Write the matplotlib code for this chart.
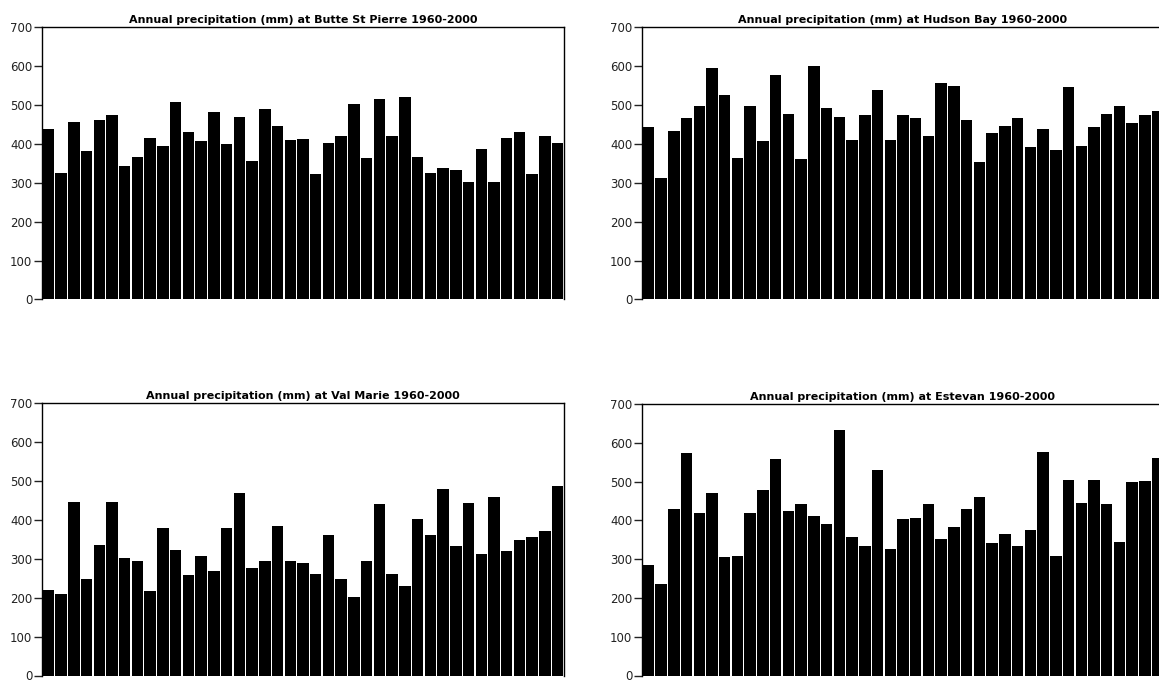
import numpy as np
import matplotlib
matplotlib.use("Agg")
import matplotlib.pyplot as plt

years = list(range(1960, 2001))

butte_st_pierre = [439, 325, 455, 381, 461, 474, 344, 365, 415, 394,
                   507, 431, 408, 482, 400, 470, 356, 489, 445, 409,
                   413, 323, 402, 421, 501, 363, 514, 421, 520, 366,
                   325, 338, 332, 301, 387, 301, 415, 431, 323, 419, 402]

hudson_bay = [443, 311, 434, 465, 498, 594, 526, 364, 496, 407,
              576, 477, 360, 600, 492, 468, 409, 474, 539, 409,
              474, 466, 420, 557, 548, 462, 354, 428, 446, 466,
              391, 438, 385, 545, 395, 444, 477, 496, 453, 474, 483]

val_marie = [219, 209, 446, 247, 336, 446, 302, 293, 216, 378,
             322, 259, 307, 268, 378, 470, 277, 293, 384, 293,
             289, 261, 361, 247, 201, 295, 440, 261, 231, 402,
             361, 480, 332, 443, 311, 458, 320, 348, 356, 372, 486]

estevan = [286, 237, 428, 574, 418, 471, 305, 307, 418, 479,
           557, 424, 443, 412, 391, 633, 357, 334, 529, 326,
           404, 406, 441, 351, 384, 430, 461, 341, 366, 335,
           376, 577, 307, 504, 446, 504, 443, 345, 498, 501, 562]

stations = ["Butte St Pierre", "Hudson Bay", "Val Marie", "Estevan"]
series = [butte_st_pierre, hudson_bay, val_marie, estevan]

W, H = 1159, 683
fig = plt.figure(figsize=(W / 100, H / 100), dpi=100)

# panel boxes in pixels: left, top, right, bottom
boxes = [(42, 27, 564, 299.5), (642, 27, 1164, 299.5),
         (42, 403, 564, 675.5), (642, 404, 1164, 675.5)]

x = np.arange(len(years))
for name, vals, (l, t, r, b) in zip(stations, series, boxes):
    ax = fig.add_axes([l / W, 1 - b / H, (r - l) / W, (b - t) / H])
    ax.bar(x, vals, width=0.9, color="black", edgecolor="none")
    ax.set_xlim(-0.5, len(years) - 0.5)
    ax.set_ylim(0, 700)
    ax.set_yticks(range(0, 701, 100))
    ax.set_xticks([])
    ax.tick_params(axis="y", length=6, width=1, pad=1, labelsize=8.5,
                   colors="#222222")
    ax.spines["bottom"].set_visible(False)
    for s in ("left", "top", "right"):
        ax.spines[s].set_linewidth(1.0)
        ax.spines[s].set_color("black")
    ax.set_title("Annual precipitation (mm) at %s %d-%d" % (name, years[0], years[-1]),
                 fontsize=8, fontweight="bold", pad=3)

fig.savefig("out.png", dpi=100)
